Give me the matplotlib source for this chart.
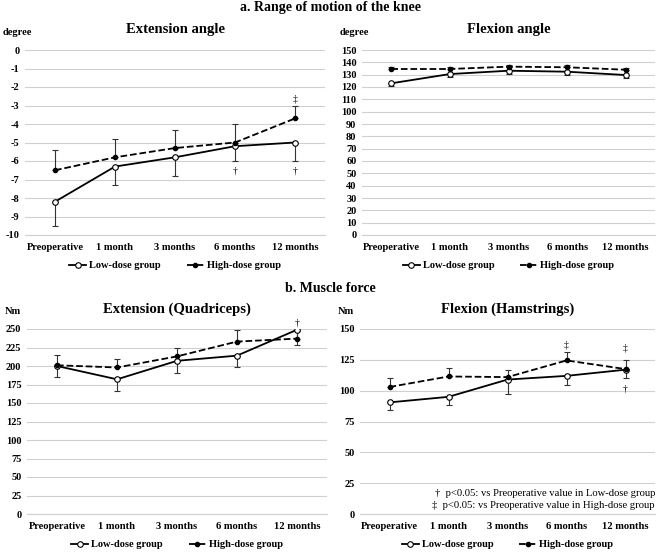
import matplotlib
matplotlib.use('Agg')
import matplotlib.pyplot as plt
import numpy as np

plt.rcParams['font.family'] = ['Liberation Serif', 'DejaVu Serif']
plt.rcParams['axes.unicode_minus'] = False

months = ['Preoperative', '1 month', '3 months', '6 months', '12 months']

# extension angle (degree)
ext_low = [-8.2, -6.3, -5.8, -5.2, -5.0]
ext_low_err = [1.3, 1.0, 1.0, 0.8, 1.0]
ext_high = [-6.5, -5.8, -5.3, -5.0, -3.7]
ext_high_err = [1.1, 1.0, 1.0, 1.0, 0.7]

# flexion angle (degree)
flx_low = [123, 130.5, 133.2, 132.4, 129.7]
flx_low_err = [2.5, 2.5, 2.5, 2.5, 2.5]
flx_high = [134.6, 134.6, 136.5, 136.0, 134.0]
flx_high_err = [1.5, 1.5, 1.5, 1.5, 1.5]

# quadriceps (Nm)
quad_low = [200, 182, 207, 214, 249]
quad_low_err = [15, 16, 16, 15, 21]
quad_high = [201, 198, 213, 233, 237]
quad_high_err = [14, 12, 12, 15, 10]

# hamstrings (Nm)
ham_low = [90.5, 95, 109, 112, 117]
ham_low_err = [6.5, 6.5, 12, 7, 6.5]
ham_high = [103, 111.5, 111, 124.5, 117.5]
ham_high_err = [7, 6.5, 6, 6.5, 7.5]

W, H = 660, 552
fig = plt.figure(figsize=(W / 100, H / 100), dpi=100)


def px_axes(x0, y0, x1, y1):
    return fig.add_axes([x0 / W, 1 - y1 / H, (x1 - x0) / W, (y1 - y0) / H])


def panel(ax, low, low_err, high, high_err, ylim, step, title, unit, marks):
    x = np.arange(len(months))
    ax.set_xlim(-0.5, 4.5)
    ax.set_ylim(*ylim)
    ax.set_yticks(np.arange(ylim[0], ylim[1] + 0.01, step))
    ax.yaxis.grid(True, color='#d0d0d0', lw=0.8)
    ax.set_axisbelow(True)
    for s in ['top', 'right', 'left']:
        ax.spines[s].set_visible(False)
    ax.spines['bottom'].set_color('#d0d0d0')
    ax.tick_params(length=0, labelsize=7.5, pad=4)
    ax.tick_params(axis='x', labelsize=7.6, pad=6)
    ax.set_xticks(x)
    ax.set_xticklabels(months, fontweight='bold')
    for lab in ax.get_yticklabels():
        lab.set_fontweight('bold')
    ax.errorbar(x, low, yerr=[low_err, [0] * 5], fmt='none', ecolor='#333333',
                elinewidth=0.8, capsize=2.5, capthick=0.8, zorder=3)
    ax.errorbar(x, high, yerr=[[0] * 5, high_err], fmt='none', ecolor='#333333',
                elinewidth=0.8, capsize=2.5, capthick=0.8, zorder=3)
    ax.plot(x, low, '-', color='black', lw=1.3, marker='o', ms=4,
            mfc='white', mec='black', mew=0.8, label='Low-dose group', zorder=4)
    ax.plot(x, high, '--', color='black', lw=1.3, marker='o', ms=3,
            mfc='black', mec='black', label='High-dose group', zorder=5)
    ax.set_title(title, fontsize=10.5, fontweight='bold', pad=12)
    ax.text(-0.075, 1.07, unit, transform=ax.transAxes, fontsize=7.5,
            fontweight='bold', ha='left', va='bottom')
    for i, y, m in marks:
        ax.text(i, y, m, ha='center', va='center', fontsize=7)
    ax.legend(loc='upper center', bbox_to_anchor=(0.5, -0.09), ncol=2,
              frameon=False, prop={'weight': 'bold', 'size': 7.5},
              handlelength=1.6, handletextpad=0.3, columnspacing=2.5)


ax1 = px_axes(25, 50, 325, 235)
panel(ax1, ext_low, ext_low_err, ext_high, ext_high_err, (-10, 0), 1,
      'Extension angle', 'degree',
      [(3, -6.55, '†'), (4, -6.55, '†'), (4, -2.65, '‡')])

ax2 = px_axes(362, 50, 655, 235)
panel(ax2, flx_low, flx_low_err, flx_high, flx_high_err, (0, 150), 10,
      'Flexion angle', 'degree', [])

ax3 = px_axes(27, 329, 327, 514)
panel(ax3, quad_low, quad_low_err, quad_high, quad_high_err, (0, 250), 25,
      'Extension (Quadriceps)', 'Nm', [(4, 258, '†')])

ax4 = px_axes(360, 329, 655, 514)
panel(ax4, ham_low, ham_low_err, ham_high, ham_high_err, (0, 150), 25,
      'Flexion (Hamstrings)', 'Nm',
      [(3, 137, '‡'), (4, 135, '‡'), (4, 101, '†')])

ax4.text(1.0, 0.11, '†  p<0.05: vs Preoperative value in Low-dose group',
         transform=ax4.transAxes, ha='right', va='center', fontsize=7.7)
ax4.text(1.0, 0.045, '‡  p<0.05: vs Preoperative value in High-dose group',
         transform=ax4.transAxes, ha='right', va='center', fontsize=7.7)

fig.text(0.5, 1 - 8 / H, 'a. Range of motion of the knee', ha='center',
         va='center', fontsize=10, fontweight='bold')
fig.text(0.5, 1 - 288 / H, 'b. Muscle force', ha='center',
         va='center', fontsize=10, fontweight='bold')

fig.savefig('out.png', dpi=100)
